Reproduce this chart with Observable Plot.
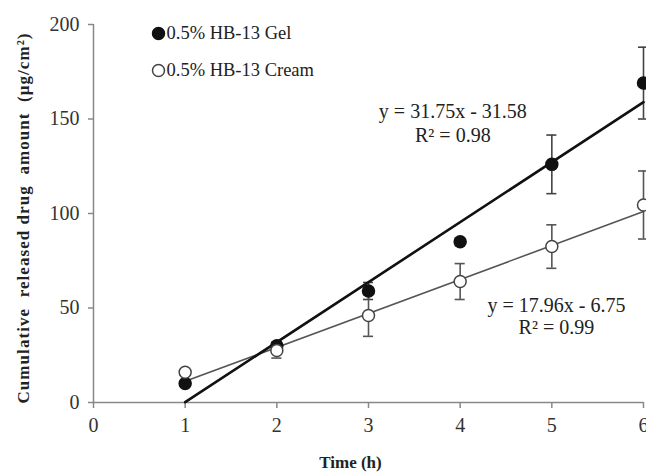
<!DOCTYPE html>
<html>
<head>
<meta charset="utf-8">
<script src="https://cdn.jsdelivr.net/npm/d3@7"></script>
<script src="https://cdn.jsdelivr.net/npm/@observablehq/plot@0.6"></script>
<style>
  html, body { margin: 0; padding: 0; background: #fff; }
  #chart { width: 646px; height: 472px; overflow: hidden; }
</style>
</head>
<body>
<div id="chart"></div>
<script>
const times = [1, 2, 3, 4, 5, 6];
const gelMean = [10, 30, 59, 85, 126, 169];
const gelSD = [1.5, 2, 4.5, 2, 15.5, 19];
const creamMean = [16, 27.5, 46, 64, 82.5, 104.5];
const creamSD = [1.5, 4, 11, 9.5, 11.5, 18];
const seriesNames = ["0.5% HB-13 Gel", "0.5% HB-13 Cream"];
const slopes = [31.75, 17.96];
const intercepts = [-31.58, -6.75];
const equations = ["y = 31.75x - 31.58", "y = 17.96x - 6.75"];
const r2 = ["R\u00b2 = 0.98", "R\u00b2 = 0.99"];
const xTicks = [0, 1, 2, 3, 4, 5, 6];
const yTicks = [0, 50, 100, 150, 200];
const yTitle = "Cumulative  released drug  amount  (\u03bcg/cm\u00b2)";

const gel = times.map((t, i) => ({t, y: gelMean[i], sd: gelSD[i]}));
const cream = times.map((t, i) => ({t, y: creamMean[i], sd: creamSD[i]}));
const fitX = [times[0], times[times.length - 1]];
const fit = (k) => fitX.map(t => ({t, y: slopes[k] * t + intercepts[k]}));

const serif = "'Liberation Serif', 'DejaVu Serif', serif";
const capW = 0.055;

function errMarks(data, color) {
  return [
    Plot.ruleX(data, {x: "t", y1: d => d.y - d.sd, y2: d => d.y + d.sd, stroke: color, strokeWidth: 1.6}),
    Plot.ruleY(data, {y: d => d.y + d.sd, x1: d => d.t - capW, x2: d => d.t + capW, stroke: color, strokeWidth: 1.6}),
    Plot.ruleY(data, {y: d => d.y - d.sd, x1: d => d.t - capW, x2: d => d.t + capW, stroke: color, strokeWidth: 1.6})
  ];
}

const chart = Plot.plot({
  width: 646,
  height: 472,
  marginLeft: 93,
  marginRight: 3,
  marginTop: 24,
  marginBottom: 70,
  style: {fontFamily: serif, background: "#fff", overflow: "visible"},
  x: {domain: [0, 6]},
  y: {domain: [0, 200]},
  marks: [
    Plot.axisY({ticks: yTicks, tickFormat: "d", tickSize: 5, tickPadding: 9, stroke: "#888", strokeWidth: 1.5, fill: "#333", fontSize: 20, label: null}),
    Plot.axisX({ticks: xTicks, tickFormat: "d", tickSize: 6, tickPadding: 9, stroke: "#888", strokeWidth: 1.5, fill: "#333", fontSize: 20, label: null}),
    Plot.ruleX([0], {stroke: "#888", strokeWidth: 1.5}),
    Plot.ruleY([0], {stroke: "#888", strokeWidth: 1.5}),
    ...errMarks(gel, "#444"),
    ...errMarks(cream, "#555"),
    Plot.line(fit(1), {x: "t", y: "y", stroke: "#555", strokeWidth: 1.6}),
    Plot.line(fit(0), {x: "t", y: "y", stroke: "#111", strokeWidth: 2.6}),
    Plot.dot(gel, {x: "t", y: "y", r: 6, fill: "#111", stroke: "#111"}),
    Plot.dot(cream, {x: "t", y: "y", r: 6, fill: "#fff", stroke: "#444", strokeWidth: 1.5}),
    // regression annotations
    Plot.text([equations[0]], {x: 3.92, y: 154, text: d => d, fontSize: 20, fill: "#222", textAnchor: "middle"}),
    Plot.text([r2[0]], {x: 3.92, y: 141, text: d => d, fontSize: 20, fill: "#222", textAnchor: "middle"}),
    Plot.text([equations[1]], {x: 5.05, y: 51.5, text: d => d, fontSize: 20, fill: "#222", textAnchor: "middle"}),
    Plot.text([r2[1]], {x: 5.05, y: 39.5, text: d => d, fontSize: 20, fill: "#222", textAnchor: "middle"}),
    // legend
    Plot.dot([0], {frameAnchor: "top-left", dx: 65, dy: 9, r: 6, fill: "#111", stroke: "#111"}),
    Plot.dot([0], {frameAnchor: "top-left", dx: 65, dy: 46, r: 6, fill: "#fff", stroke: "#444", strokeWidth: 1.5}),
    Plot.text([seriesNames[0]], {frameAnchor: "top-left", dx: 73, dy: 9, text: d => d, fontSize: 18.5, fill: "#222", textAnchor: "start", lineAnchor: "middle"}),
    Plot.text([seriesNames[1]], {frameAnchor: "top-left", dx: 73, dy: 46, text: d => d, fontSize: 18.5, fill: "#222", textAnchor: "start", lineAnchor: "middle"}),
    // axis titles
    Plot.text(["Time (h)"], {frameAnchor: "bottom", dx: -18, dy: 60, text: d => d, fontSize: 17, fontWeight: "bold", fill: "#222", lineAnchor: "middle"}),
    Plot.text([yTitle], {frameAnchor: "left", dx: -70, dy: 5, rotate: -90, text: d => d, fontSize: 17, fontWeight: "bold", fill: "#222", textAnchor: "middle", lineAnchor: "middle"})
  ]
});
d3.select(chart).selectAll("text")
  .filter(function () { return this.textContent === yTitle; })
  .attr("textLength", 370)
  .attr("lengthAdjust", "spacing");
document.getElementById("chart").appendChild(chart);
</script>
</body>
</html>
